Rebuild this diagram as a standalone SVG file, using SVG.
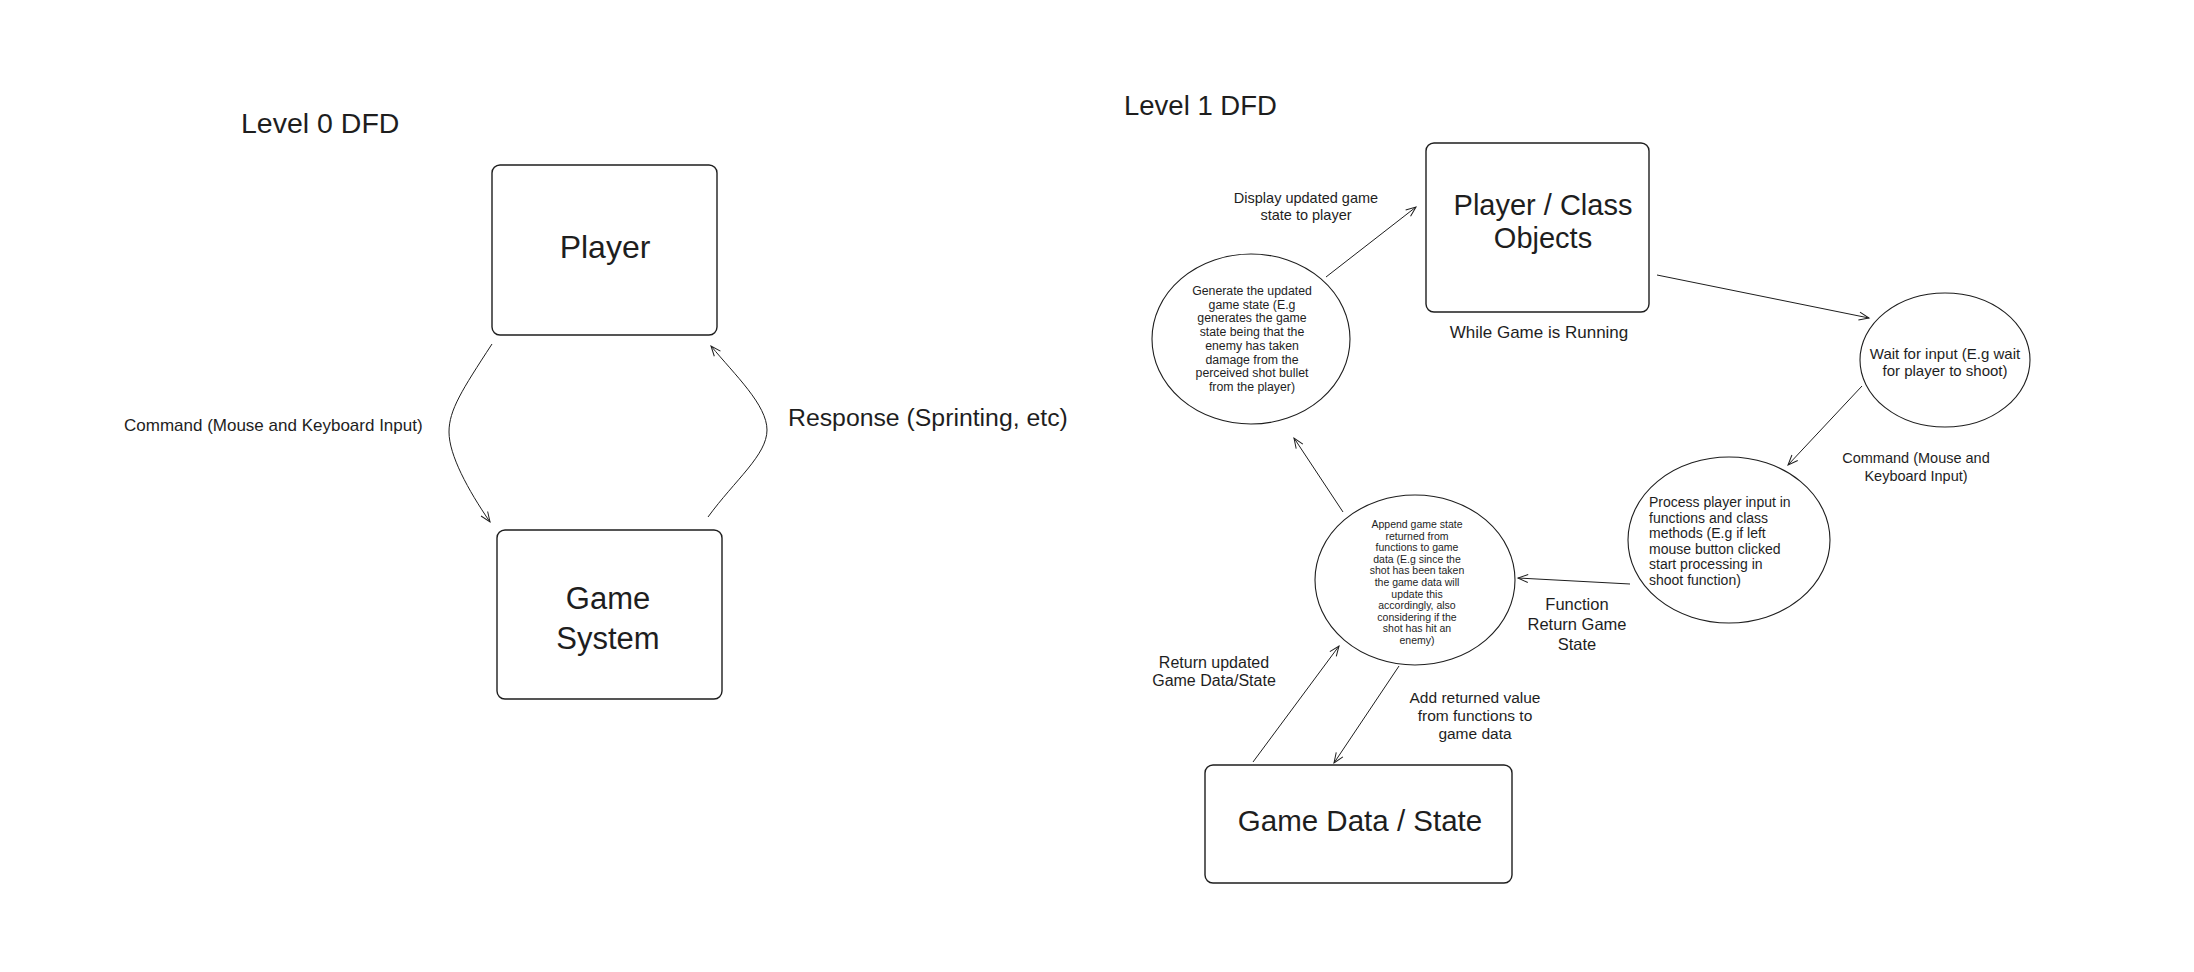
<svg xmlns="http://www.w3.org/2000/svg" width="2194" height="972" viewBox="0 0 2194 972">
<defs>
<style>
text{font-family:"Liberation Sans","DejaVu Sans",sans-serif;fill:#1e1e1e;dominant-baseline:central}
.c{text-anchor:middle}
.box{fill:none;stroke:#1e1e1e;stroke-width:1.4}
.ell{fill:none;stroke:#1e1e1e;stroke-width:1.1}
.arr{fill:none;stroke:#1e1e1e;stroke-width:1;marker-end:url(#ah)}
</style>
<marker id="ah" markerUnits="userSpaceOnUse" markerWidth="16" markerHeight="12" refX="0" refY="0" viewBox="-12 -6 14 12" orient="auto">
<path d="M-10,-4 L0,0 L-10,4" fill="none" stroke="#1e1e1e" stroke-width="1"/>
</marker>
</defs>
<rect width="2194" height="972" fill="#ffffff"/>

<text id="title0" x="241" y="123" font-size="28.5">Level 0 DFD</text>
<text id="title1" x="1124" y="105" font-size="27.5">Level 1 DFD</text>

<g id="connectors">
<path class="arr" d="M492,344 C462,390 449,410 449,432 C449,455 468,490 490,522"/>
<path class="arr" d="M708,517 C735,480 767,455 767,430 C767,405 735,375 711,346"/>
<path class="arr" d="M1326,277 L1416,207"/>
<path class="arr" d="M1657,275 L1869,318"/>
<path class="arr" d="M1862,386 L1788,465"/>
<path class="arr" d="M1630,584 L1518,578"/>
<path class="arr" d="M1343,512 L1294,438"/>
<path class="arr" d="M1253,762 L1339,646"/>
<path class="arr" d="M1399,666 L1334,763"/>
</g>

<g id="labels">
<text x="124" y="425" font-size="17">Command (Mouse and Keyboard Input)</text>
<text x="788" y="417" font-size="24.8">Response (Sprinting, etc)</text>
<text class="c" x="1306" y="198" font-size="14.5">Display updated game</text>
<text class="c" x="1306" y="215" font-size="14.5">state to player</text>
<text class="c" x="1539" y="332" font-size="17">While Game is Running</text>
<text class="c" x="1916" y="458" font-size="14.5">Command (Mouse and</text>
<text class="c" x="1916" y="476" font-size="14.5">Keyboard Input)</text>
<text class="c" x="1577" y="604" font-size="16.5">Function</text>
<text class="c" x="1577" y="624" font-size="16.5">Return Game</text>
<text class="c" x="1577" y="644" font-size="16.5">State</text>
<text class="c" x="1214" y="662" font-size="16">Return updated</text>
<text class="c" x="1214" y="680" font-size="16">Game Data/State</text>
<text class="c" x="1475" y="697" font-size="15.5">Add returned value</text>
<text class="c" x="1475" y="715" font-size="15.5">from functions to</text>
<text class="c" x="1475" y="733" font-size="15.5">game data</text>
</g>

<g id="player0">
<rect class="box" x="492" y="165" width="225" height="170" rx="8"/>
<text class="c" x="605" y="247" font-size="32">Player</text>
</g>

<g id="gamesystem">
<rect class="box" x="497" y="530" width="225" height="169" rx="8"/>
<text class="c" x="608" y="598" font-size="31">Game</text>
<text class="c" x="608" y="638" font-size="31">System</text>
</g>

<g id="playerclass">
<rect class="box" x="1426" y="143" width="223" height="169" rx="8"/>
<text class="c" x="1543" y="205" font-size="29">Player / Class</text>
<text class="c" x="1543" y="238" font-size="29">Objects</text>
</g>

<g id="generate">
<ellipse class="ell" cx="1251" cy="339" rx="99" ry="85"/>
<text class="c" x="1252" y="291" font-size="12.3">Generate the updated</text>
<text class="c" x="1252" y="304.7" font-size="12.3">game state (E.g</text>
<text class="c" x="1252" y="318.4" font-size="12.3">generates the game</text>
<text class="c" x="1252" y="332.1" font-size="12.3">state being that the</text>
<text class="c" x="1252" y="345.8" font-size="12.3">enemy has taken</text>
<text class="c" x="1252" y="359.5" font-size="12.3">damage from the</text>
<text class="c" x="1252" y="373.2" font-size="12.3">perceived shot bullet</text>
<text class="c" x="1252" y="386.9" font-size="12.3">from the player)</text>
</g>

<g id="wait">
<ellipse class="ell" cx="1945" cy="360" rx="85" ry="67"/>
<text class="c" x="1945" y="353" font-size="15">Wait for input (E.g wait</text>
<text class="c" x="1945" y="370" font-size="15">for player to shoot)</text>
</g>

<g id="process">
<ellipse class="ell" cx="1729" cy="540" rx="101" ry="83"/>
<text x="1649" y="502" font-size="14">Process player input in</text>
<text x="1649" y="517.5" font-size="14">functions and class</text>
<text x="1649" y="533" font-size="14">methods (E.g if left</text>
<text x="1649" y="548.5" font-size="14">mouse button clicked</text>
<text x="1649" y="564" font-size="14">start processing in</text>
<text x="1649" y="579.5" font-size="14">shoot function)</text>
</g>

<g id="append">
<ellipse class="ell" cx="1415" cy="580" rx="100" ry="85"/>
<text class="c" x="1417" y="524" font-size="10.5">Append game state</text>
<text class="c" x="1417" y="535.6" font-size="10.5">returned from</text>
<text class="c" x="1417" y="547.2" font-size="10.5">functions to game</text>
<text class="c" x="1417" y="558.8" font-size="10.5">data (E.g since the</text>
<text class="c" x="1417" y="570.4" font-size="10.5">shot has been taken</text>
<text class="c" x="1417" y="582" font-size="10.5">the game data will</text>
<text class="c" x="1417" y="593.6" font-size="10.5">update this</text>
<text class="c" x="1417" y="605.2" font-size="10.5">accordingly, also</text>
<text class="c" x="1417" y="616.8" font-size="10.5">considering if the</text>
<text class="c" x="1417" y="628.4" font-size="10.5">shot has hit an</text>
<text class="c" x="1417" y="640" font-size="10.5">enemy)</text>
</g>

<g id="gamedata">
<rect class="box" x="1205" y="765" width="307" height="118" rx="8"/>
<text class="c" x="1360" y="820" font-size="29.5">Game Data / State</text>
</g>
</svg>
